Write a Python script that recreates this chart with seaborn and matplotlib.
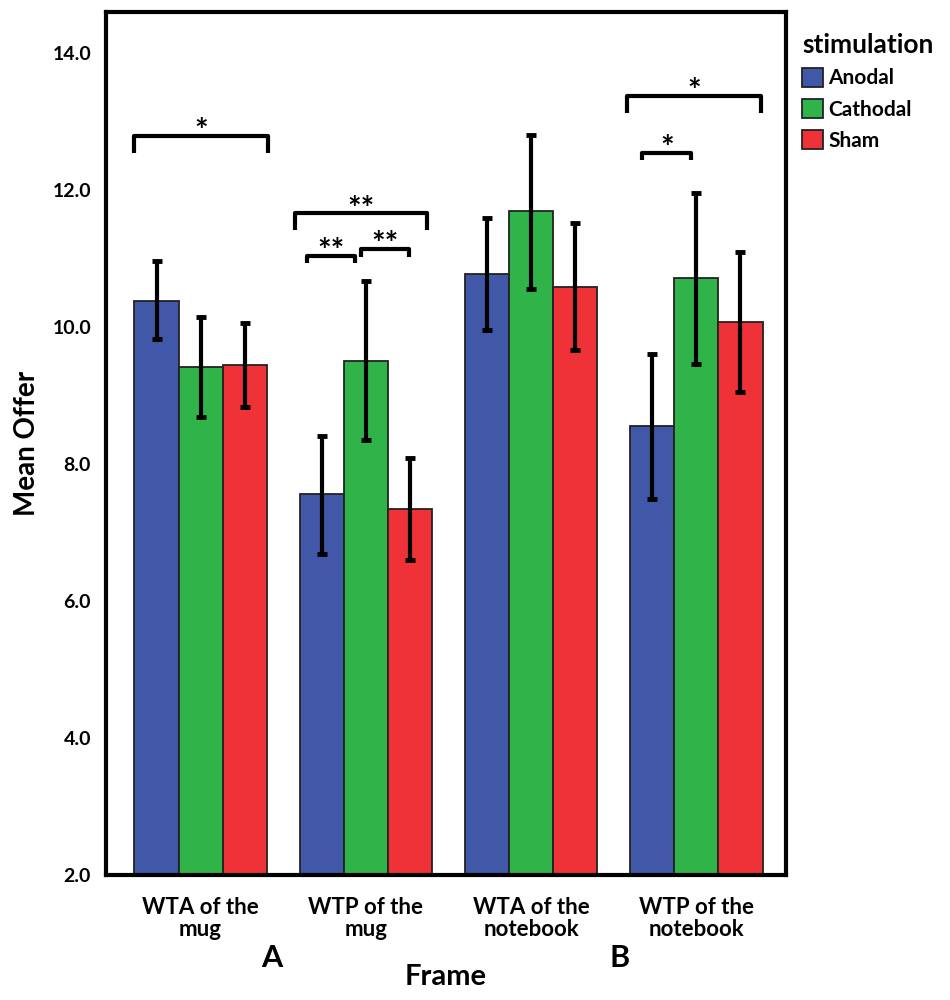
import numpy as np
import pandas as pd
import matplotlib
matplotlib.use("Agg")
import matplotlib.pyplot as plt
from matplotlib.patches import Patch
import seaborn as sns

frames = ["WTA of the\nmug", "WTP of the\nmug", "WTA of the\nnotebook", "WTP of the\nnotebook"]
stims = ["Anodal", "Cathodal", "Sham"]
colors = ["#4157A8", "#30B44A", "#EE3238"]

anodal_mean = [10.38, 7.56, 10.77, 8.55]
cathodal_mean = [9.42, 9.51, 11.69, 10.72]
sham_mean = [9.44, 7.34, 10.58, 10.07]

anodal_lo = [9.82, 6.69, 9.95, 7.49]
anodal_hi = [10.96, 8.41, 11.59, 9.61]
cathodal_lo = [8.69, 8.35, 10.56, 9.46]
cathodal_hi = [10.15, 10.67, 12.80, 11.96]
sham_lo = [8.83, 6.60, 9.66, 9.05]
sham_hi = [10.06, 8.09, 11.52, 11.09]

# significance brackets: x0, x1, top y, leg bottom y, label
br_x0 = [-0.40, 0.57, 0.645, 0.97, 2.58, 2.67]
br_x1 = [0.41, 1.37, 0.935, 1.26, 3.39, 2.97]
br_top = [12.79, 11.66, 11.04, 11.14, 13.37, 12.54]
br_bot = [12.54, 11.41, 10.94, 11.02, 13.13, 12.44]
br_txt = ["*", "**", "**", "**", "*", "*"]

df = pd.DataFrame({
    "Frame": frames * 3,
    "stimulation": sum([[s] * 4 for s in stims], []),
    "mean": anodal_mean + cathodal_mean + sham_mean,
    "lo": anodal_lo + cathodal_lo + sham_lo,
    "hi": anodal_hi + cathodal_hi + sham_hi,
})

sns.set_style("white")
plt.rcParams["font.family"] = ["Lato", "DejaVu Sans"]
plt.rcParams["text.color"] = "black"
plt.rcParams["axes.labelcolor"] = "black"
plt.rcParams["xtick.color"] = "black"
plt.rcParams["ytick.color"] = "black"

fig = plt.figure(figsize=(9.5, 10), dpi=100)
ax = fig.add_axes([0.112, 0.125, 0.715, 0.863])

sns.barplot(data=df, x="Frame", y="mean", hue="stimulation", order=frames,
            hue_order=stims, palette=colors, errorbar=None, width=0.8,
            edgecolor="#222222", linewidth=1.3, saturation=1, ax=ax, legend=False)

# error bars at bar centres
for cont, s in zip(ax.containers, stims):
    sub = df[df["stimulation"] == s].set_index("Frame").loc[frames]
    xs = [p.get_x() + p.get_width() / 2 for p in cont.patches]
    ax.errorbar(xs, sub["mean"], yerr=[sub["mean"] - sub["lo"], sub["hi"] - sub["mean"]],
                fmt="none", ecolor="black", elinewidth=3, capsize=3.5, capthick=3.5, zorder=5)

for x0, x1, t, b, txt in zip(br_x0, br_x1, br_top, br_bot, br_txt):
    ax.plot([x0, x0, x1, x1], [b, t, t, b], color="black", lw=3, solid_capstyle="butt", zorder=6)
    ax.text((x0 + x1) / 2, t - 0.09, txt, ha="center", va="baseline", fontsize=23,
            fontweight="bold", zorder=6)

ax.set_ylim(2.0, 14.6)
ax.set_xlim(-0.57, 3.54)
ax.set_yticks(np.arange(2, 15, 2))
ax.set_yticklabels([f"{v:.1f}" for v in np.arange(2, 15, 2)], fontsize=14, fontweight="bold")
ax.set_xticks(range(len(frames)))
ax.set_xticklabels(frames, fontsize=16, fontweight="bold", linespacing=1.05)
ax.tick_params(axis="both", direction="out", length=8, width=2.5, color="black", pad=3)
ax.tick_params(axis="x", pad=8)
for sp in ax.spines.values():
    sp.set_linewidth(3)
    sp.set_color("black")

ax.set_ylabel("Mean Offer", fontsize=20, fontweight="bold", labelpad=9)
ax.set_xlabel("Frame", fontsize=21, fontweight="bold", labelpad=17)

fig.text(272 / 950, 1 - 958 / 1000, "A", fontsize=22, fontweight="bold", ha="center", va="center")
fig.text(620 / 950, 1 - 958 / 1000, "B", fontsize=22, fontweight="bold", ha="center", va="center")

handles = [Patch(facecolor=c, edgecolor="#222222", linewidth=1.3, label=s) for c, s in zip(colors, stims)]
leg = ax.legend(handles=handles, title="stimulation", loc="upper left",
                bbox_to_anchor=(798 / 950, 1 - 29 / 1000), bbox_transform=fig.transFigure,
                frameon=False, fontsize=15, title_fontproperties={"size": 19, "weight": "bold"},
                handlelength=1.0, handleheight=1.05, handletextpad=0.25, labelspacing=0.5,
                borderaxespad=0, borderpad=0.2)
leg._legend_box.align = "left"
for t in leg.get_texts():
    t.set_fontweight("bold")

fig.savefig("out.png", dpi=100, facecolor="white")
